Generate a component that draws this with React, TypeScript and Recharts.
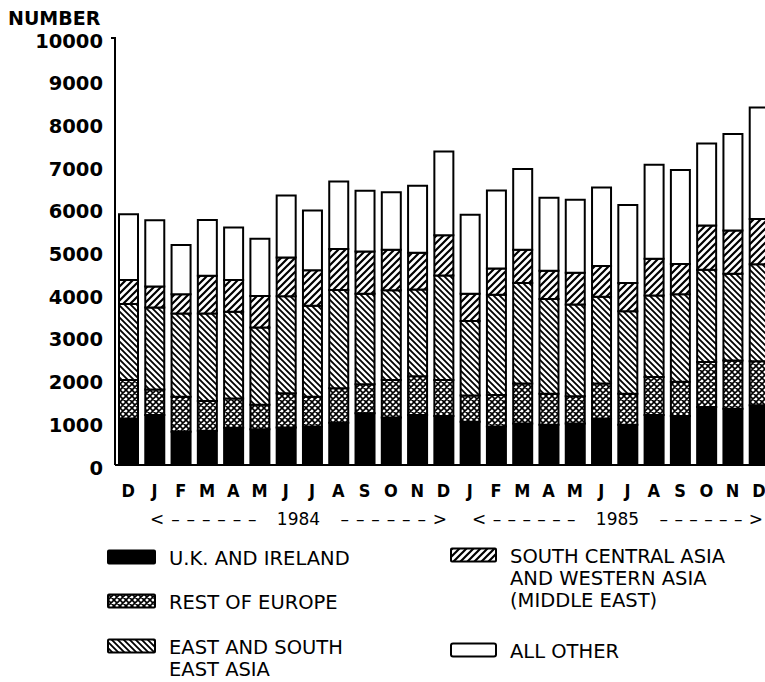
import React from "react"
import { Bar, BarChart, XAxis, YAxis } from "recharts"

// monthly figures, Dec 1983 .. Dec 1985
const MONTHS = ["D", "J", "F", "M", "A", "M", "J", "J", "A", "S", "O", "N", "D", "J", "F", "M", "A", "M", "J", "J", "A", "S", "O", "N", "D"]

const UK_IRELAND = [1090, 1170, 780, 800, 870, 840, 880, 900, 990, 1210, 1110, 1170, 1150, 1010, 900, 970, 940, 970, 1090, 940, 1170, 1150, 1360, 1320, 1400]
const REST_EUROPE = [900, 600, 820, 700, 690, 570, 800, 700, 810, 680, 880, 910, 840, 620, 740, 940, 730, 640, 820, 730, 890, 800, 1050, 1130, 1030]
const EAST_ASIA = [1780, 1920, 1950, 2050, 2030, 1810, 2270, 2130, 2300, 2120, 2100, 2030, 2450, 1740, 2350, 2350, 2220, 2150, 2030, 1930, 1910, 2050, 2160, 2030, 2270]
const MIDDLE_EAST = [560, 490, 450, 880, 740, 740, 910, 830, 960, 990, 950, 860, 940, 640, 610, 780, 660, 740, 720, 660, 860, 710, 1040, 1010, 1060]
const ALL_OTHER = [1540, 1550, 1150, 1310, 1230, 1340, 1450, 1400, 1580, 1420, 1350, 1570, 1960, 1850, 1830, 1890, 1710, 1710, 1840, 1830, 2200, 2200, 1920, 2260, 2610]

const Y_TICKS = [0, 1000, 2000, 3000, 4000, 5000, 6000, 7000, 8000, 9000, 10000]
const YEARS = ["1984", "1985"]

const data = MONTHS.map((m, i) => ({
  idx: i,
  uk: UK_IRELAND[i],
  europe: REST_EUROPE[i],
  eastAsia: EAST_ASIA[i],
  middleEast: MIDDLE_EAST[i],
  other: ALL_OTHER[i],
}))

const SANS = "'DejaVu Sans', sans-serif"

function YTick(props: any) {
  const { x, y, payload } = props
  return (
    <g>
      <text x={x} y={y + 3} textAnchor="end" dominantBaseline="central" fontFamily={SANS} fontWeight="bold" fontSize={19.5} fill="#000">
        {payload.value}
      </text>
      {payload.value === 10000 && <line x1={x + 8} x2={x + 13} y1={y} y2={y} stroke="#000" strokeWidth={2} />}
    </g>
  )
}

function XTick(props: any) {
  const { x, y, payload } = props
  return (
    <text x={x} y={y + 23} textAnchor="middle" dominantBaseline="central" fontFamily="'Liberation Sans Narrow', 'DejaVu Sans Condensed', sans-serif" fontWeight="bold" fontSize={18} fill="#000">
      {MONTHS[payload.value]}
    </text>
  )
}

function Swatch({ x, y, w, fill, radius = 1 }: any) {
  return <rect x={x} y={y - 6.5} width={w} height={13} rx={radius} fill={fill} stroke="#000" strokeWidth={2} />
}

// "<----- 1984 ----->" style span under the months
function YearSpan({ year, left, right }: { year: string; left: number; right: number }) {
  const mid = (left + right) / 2
  const y = 519
  const common = { y, dominantBaseline: "central" as const, fontFamily: SANS, fontSize: 17, fill: "#000" }
  return (
    <g>
      <text x={left} {...common} textLength={mid - left - 42} lengthAdjust="spacing">{"<\u2013\u2013\u2013\u2013\u2013\u2013"}</text>
      <text x={mid} {...common} textAnchor="middle">{year}</text>
      <text x={mid + 42} {...common} textLength={right - mid - 42} lengthAdjust="spacing">{"\u2013\u2013\u2013\u2013\u2013\u2013>"}</text>
    </g>
  )
}

const legendText = { fontFamily: SANS, fontSize: 19.5, fill: "#000", dominantBaseline: "central" as const }

export default function App() {
  return (
    <div style={{ position: "absolute", left: 0, top: 0, width: 765, height: 682, overflow: "hidden", background: "#fff" }}>
      <BarChart width={772} height={540} data={data} margin={{ top: 38, right: 0, left: 0, bottom: 0 }}>
        <XAxis dataKey="idx" type="category" height={75} tick={<XTick />} tickLine={false} tickSize={0} interval={0} axisLine={{ stroke: "#000", strokeWidth: 2 }} />
        <YAxis
          width={115}
          domain={[0, 10000]}
          ticks={Y_TICKS}
          interval={0}
          tick={<YTick />}
          tickLine={false}
          tickSize={6}
          tickMargin={6}
          axisLine={{ stroke: "#000", strokeWidth: 2 }}
        />
        <Bar dataKey="uk" stackId="a" fill="#000" stroke="#000" strokeWidth={2} barSize={19} isAnimationActive={false} />
        <Bar dataKey="europe" stackId="a" fill="url(#crossHatch)" stroke="#000" strokeWidth={2} barSize={19} isAnimationActive={false} />
        <Bar dataKey="eastAsia" stackId="a" fill="url(#backHatch)" stroke="#000" strokeWidth={2} barSize={19} isAnimationActive={false} />
        <Bar dataKey="middleEast" stackId="a" fill="url(#fwdHatch)" stroke="#000" strokeWidth={2} barSize={19} isAnimationActive={false} />
        <Bar dataKey="other" stackId="a" fill="#fff" stroke="#000" strokeWidth={2} barSize={19} isAnimationActive={false} />
      </BarChart>

      <svg width={765} height={682} style={{ position: "absolute", left: 0, top: 0, pointerEvents: "none" }}>
        <defs>
          <pattern id="crossHatch" patternUnits="userSpaceOnUse" width={6} height={6}>
            <rect width={6} height={6} fill="#fff" />
            <path d="M0,0 L6,6 M-1,5 L1,7 M5,-1 L7,1 M0,6 L6,0 M-1,1 L1,-1 M5,7 L7,5" stroke="#000" strokeWidth={1.6} />
          </pattern>
          <pattern id="backHatch" patternUnits="userSpaceOnUse" width={6} height={6}>
            <rect width={6} height={6} fill="#fff" />
            <path d="M0,0 L6,6 M-1,5 L1,7 M5,-1 L7,1" stroke="#000" strokeWidth={1.8} />
          </pattern>
          <pattern id="fwdHatch" patternUnits="userSpaceOnUse" width={7} height={7}>
            <rect width={7} height={7} fill="#fff" />
            <path d="M0,7 L7,0 M-1,1 L1,-1 M6,8 L8,6" stroke="#000" strokeWidth={2.2} />
          </pattern>
        </defs>

        <text x={8} y={18} dominantBaseline="central" fontFamily={SANS} fontWeight="bold" fontSize={19} fill="#000">
          NUMBER
        </text>

        <YearSpan year={YEARS[0]} left={150} right={447} />
        <YearSpan year={YEARS[1]} left={472} right={763} />

        {/* legend, column 1 */}
        <Swatch x={108} y={557} w={47} fill="#000" />
        <text x={169} y={558} {...legendText}>U.K. AND IRELAND</text>
        <Swatch x={108} y={601} w={47} fill="url(#crossHatch)" />
        <text x={169} y={602} {...legendText}>REST OF EUROPE</text>
        <Swatch x={108} y={646} w={47} fill="url(#backHatch)" />
        <text x={169} y={647} {...legendText}>EAST AND SOUTH</text>
        <text x={169} y={669} {...legendText}>EAST ASIA</text>

        {/* legend, column 2 */}
        <Swatch x={451} y={555} w={45} fill="url(#fwdHatch)" />
        <text x={510} y={556} {...legendText}>SOUTH CENTRAL ASIA</text>
        <text x={510} y={578} {...legendText}>AND WESTERN ASIA</text>
        <text x={510} y={600} {...legendText}>(MIDDLE EAST)</text>
        <Swatch x={451} y={650} w={45} fill="#fff" radius={2} />
        <text x={510} y={651} {...legendText}>ALL OTHER</text>
      </svg>
    </div>
  )
}
